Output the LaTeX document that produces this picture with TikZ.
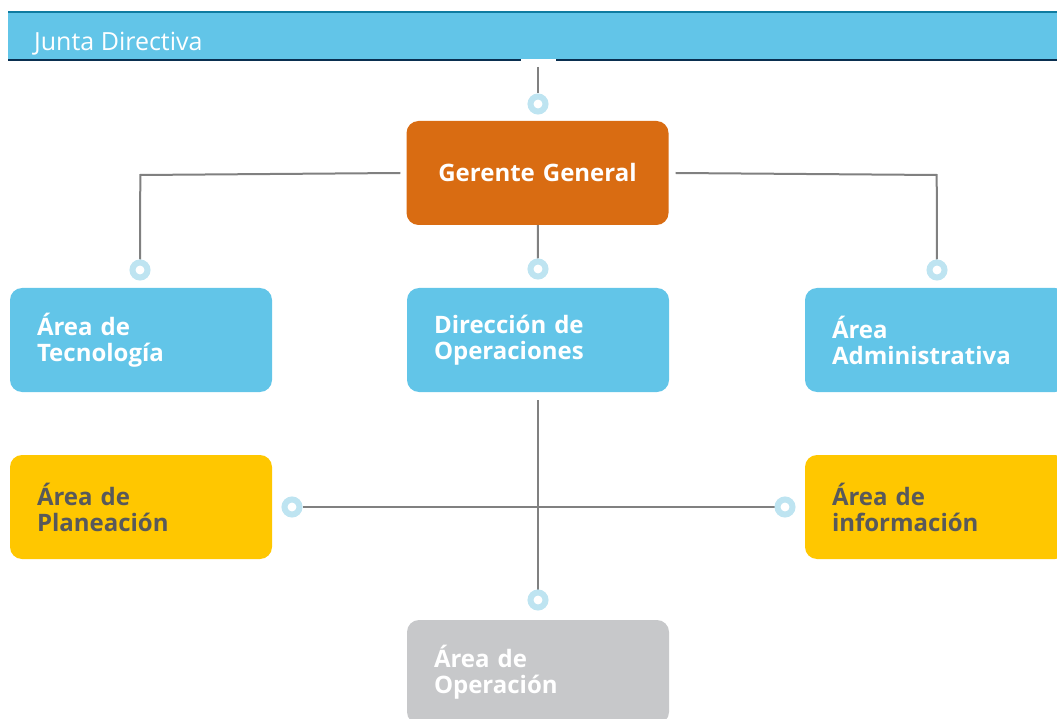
\documentclass[tikz,border=0pt]{standalone}
\usepackage{fontspec}
\setmainfont{Open Sans}
\usetikzlibrary{backgrounds}
\definecolor{barblue}{HTML}{62C5E8}
\definecolor{barteal}{HTML}{0E7BA0}
\definecolor{barnavy}{HTML}{0A2F50}
\definecolor{orgorange}{HTML}{D96C12}
\definecolor{orgblue}{HTML}{62C5E8}
\definecolor{orgyellow}{HTML}{FFC700}
\definecolor{orggray}{HTML}{C7C8CA}
\definecolor{darktext}{HTML}{58595B}
\definecolor{ringblue}{HTML}{BEE4F1}
\definecolor{linegray}{HTML}{808080}
\tikzset{
  orgbox/.style={rounded corners=12, minimum width=262, minimum height=104,
    inner xsep=27, inner ysep=0, text width=208, align=left,
    font=\fontsize{24}{26}\selectfont\bfseries, text=white},
  ring/.style={circle, draw=ringblue, line width=6, fill=white,
    minimum size=15, inner sep=0},
  conn/.style={draw=linegray, line width=2},
}
\begin{document}
\begin{tikzpicture}[x=1pt,y=-1pt]
\useasboundingbox (0,0) rectangle (1057,719);
\clip (0,0) rectangle (1057,719);
% top bar
\fill[barblue] (8,12) rectangle (1057,61);
\draw[barteal, line width=2] (8,12) -- (1057,12);
\draw[barnavy, line width=2] (8,60.5) -- (1057,60.5);
\fill[white] (521,59.3) rectangle (556,62);
\node[anchor=base west, inner sep=0, text=white, font=\fontsize{25}{28}\selectfont] (title) at (34,51) {Junta Directiva};
% boxes
\node[orgbox, fill=orgorange, align=center] (gg) at (537.5,173) {Gerente General};
\node[orgbox, fill=orgblue] (tec) at (141,340) {Área de\\Tecnología};
\node[orgbox, fill=orgblue] (dir) at (538,340) {Dirección de\\Operaciones};
\node[orgbox, fill=orgblue] (adm) at (936,340) {Área\\Administrativa};
\node[orgbox, fill=orgyellow, text=darktext] (pla) at (141,507) {Área de\\Planeación};
\node[orgbox, fill=orgyellow, text=darktext] (inf) at (936,507) {Área de\\información};
\node[orgbox, fill=orggray] (ope) at (538,672) {Área de\\Operación};
% rings
\node[ring] (r0) at (538,104) {};
\node[ring] (rt) at (140,270) {};
\node[ring] (rd) at (538,269) {};
\node[ring] (ra) at (937,270) {};
\node[ring] (rp) at (292,507) {};
\node[ring] (ri) at (785,507) {};
\node[ring] (ro) at (538,600) {};
\coordinate (top) at (538,67);
% connectors
\begin{pgfonlayer}{background}
\draw[conn] (top) -- (r0);
\draw[conn] ([xshift=-6]gg.west) -- ++(-260,2) -- (rt);
\draw[conn] ([xshift=7]gg.east) -- ++(261,2) -- (ra);
\draw[conn] (gg) -- (rd);
\draw[conn] ([yshift=-8]dir.south) -- (ro);
\draw[conn] (rp) -- (ri);
\end{pgfonlayer}
\end{tikzpicture}
\end{document}
